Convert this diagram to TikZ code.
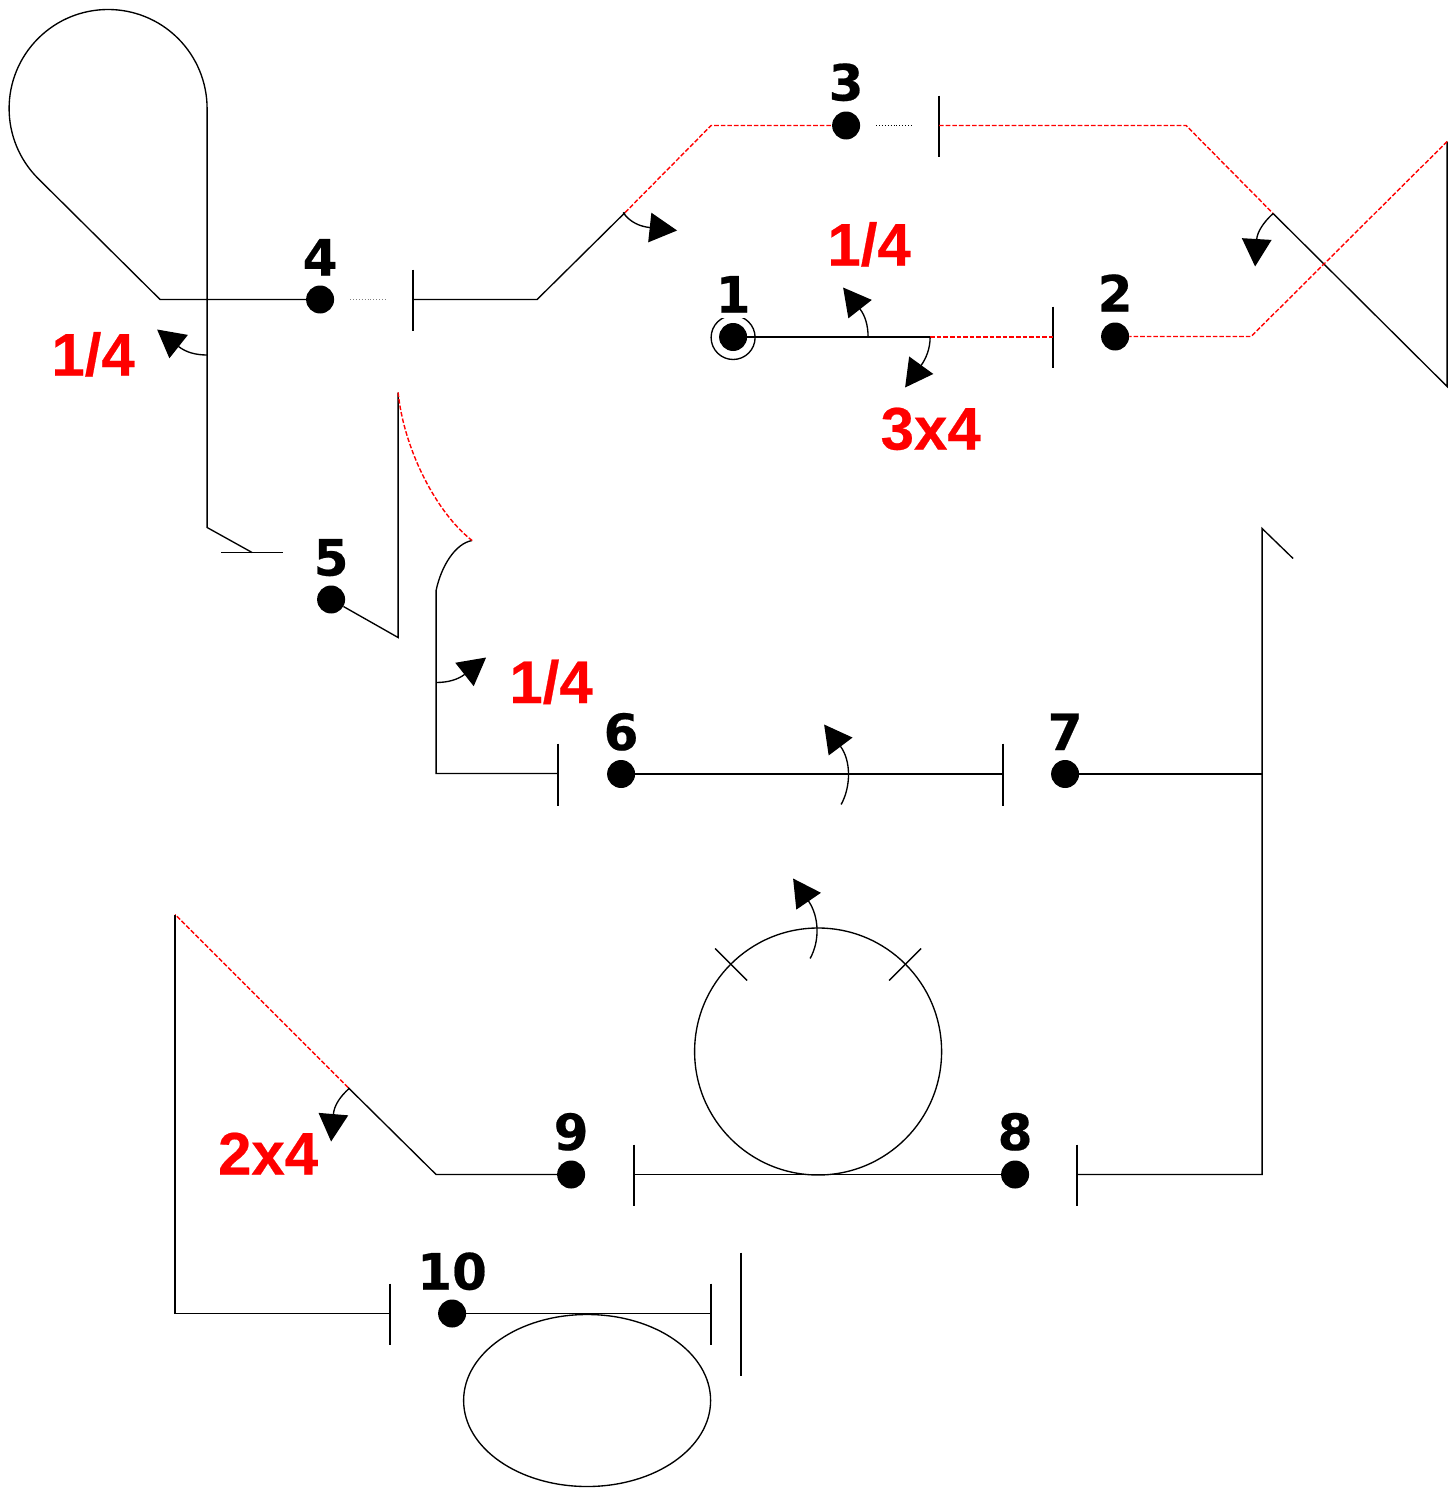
\documentclass[tikz,border=0pt]{standalone}
\usepackage{fontspec}
\usetikzlibrary{arrows.meta,shapes.geometric}
\newfontfamily\numfont[FakeBold=0.4]{DejaVu Sans}
\newfontfamily\redfont[FakeBold=0.4]{Liberation Sans}
\tikzset{
  wire/.style={line width=1.35pt,black,line join=miter},
  redwire/.style={line width=1.4pt,red,dash pattern=on 4.6pt off 2pt},
  dotwire/.style={line width=1.2pt,dash pattern=on 1pt off 1.9pt},
  dotnode/.style={circle,fill=black,inner sep=0pt,minimum size=28pt},
  ringnode/.style={circle,draw=black,line width=1.35pt,inner sep=0pt,minimum size=44pt},
  numlabel/.style={anchor=base,inner sep=0pt,font=\numfont\bfseries\fontsize{50}{50}\selectfont},
  redlabel/.style={anchor=base,inner sep=0pt,text=red,font=\redfont\bfseries\fontsize{60}{60}\selectfont},
  turn/.style={line width=1.35pt,-{Triangle[length=27.5pt,width=29.5pt]}},
}
\begin{document}
\begin{tikzpicture}[x=1pt,y=-1pt]
\useasboundingbox (-0.1,-0.5) rectangle (1451.9,1487.5);
% points
\coordinate (loopr) at (207,108);
\coordinate (loopl) at (38,178);
\coordinate (a1) at (160,299);
\coordinate (a2) at (207,527);
\coordinate (a3) at (252,552);
\coordinate (t5a) at (221,552);
\coordinate (t5b) at (283,552);
\coordinate (b1) at (398,637);
\coordinate (b2) at (398,392);
\coordinate (b3) at (472,540);
\coordinate (b4) at (436,590);
\coordinate (b5) at (436,773);
\coordinate (t6) at (558,773);
\coordinate (t6a) at (558,743);
\coordinate (t6b) at (558,805);
\coordinate (t7) at (1003,773.5);
\coordinate (t7a) at (1003,743);
\coordinate (t7b) at (1003,805);
\coordinate (c1) at (1262,773.5);
\coordinate (c2) at (1262,528);
\coordinate (c3) at (1293,558);
\coordinate (c4) at (1262,1174);
\coordinate (t8) at (1077,1174);
\coordinate (t8a) at (1077,1144);
\coordinate (t8b) at (1077,1205);
\coordinate (t9) at (634,1174);
\coordinate (t9a) at (634,1144);
\coordinate (t9b) at (634,1205);
\coordinate (e1) at (436,1174);
\coordinate (e2) at (348,1087);
\coordinate (e3) at (175,914);
\coordinate (e4) at (175,1313);
\coordinate (t10) at (390,1313);
\coordinate (t10a) at (390,1283);
\coordinate (t10b) at (390,1344);
\coordinate (t11) at (711,1313);
\coordinate (t11a) at (711,1283);
\coordinate (t11b) at (711,1344);
\coordinate (t12a) at (741,1252);
\coordinate (t12b) at (741,1375);
\coordinate (t4) at (413,299);
\coordinate (t4a) at (413,269);
\coordinate (t4b) at (413,330);
\coordinate (d4a) at (350,299);
\coordinate (d4b) at (385,299);
\coordinate (f1) at (537,299);
\coordinate (f2) at (625,212);
\coordinate (f3) at (711,125);
\coordinate (d3a) at (876,125);
\coordinate (d3b) at (911,125);
\coordinate (t3) at (939,125);
\coordinate (t3a) at (939,95);
\coordinate (t3b) at (939,156);
\coordinate (g1) at (1186,125);
\coordinate (g2) at (1273,213);
\coordinate (g3) at (1447,386);
\coordinate (g4) at (1447,141);
\coordinate (g5) at (1251,336);
\coordinate (t2) at (1053,336.5);
\coordinate (t2a) at (1053,306);
\coordinate (t2b) at (1053,367);
\coordinate (h1) at (930,336.5);
\coordinate (xa) at (715,948);
\coordinate (xb) at (747,980);
\coordinate (ya) at (921,948);
\coordinate (yb) at (889,980);
% round shapes
\node[circle,draw=black,line width=1.35pt,inner sep=0pt,minimum size=247pt] (round) at (818,1051) {};
\node[ellipse,draw=black,line width=1.35pt,inner sep=0pt,minimum width=247pt,minimum height=172pt] (oval) at (587,1400) {};
% terminals
\node[ringnode] (ring) at (733,337) {};
\node[dotnode] (d1) at (733,336.5) {};
\node[dotnode] (d2) at (1115,336) {};
\node[dotnode] (d3) at (846,125) {};
\node[dotnode] (d4) at (320,299) {};
\node[dotnode] (d5) at (331,599) {};
\node[dotnode] (d6) at (621,773.5) {};
\node[dotnode] (d7) at (1065,773.5) {};
\node[dotnode] (d8) at (1015,1174) {};
\node[dotnode] (d9) at (571,1174) {};
\node[dotnode] (d10) at (452,1313) {};
% black wires
\draw[wire] (d4) -- (a1) -- (loopl) arc[start angle=225,end angle=0,radius=99pt] -- (a2) -- (a3);
\draw[wire] (t5a) -- (t5b);
\draw[wire] (d5) -- (b1) -- (b2);
\draw[wire] (b3) .. controls (455,543) and (441,566) .. (b4) -- (b5) -- (t6);
\draw[wire] (t6a) -- (t6b);
\draw[wire] (d6) -- (t7);
\draw[wire] (t7a) -- (t7b);
\draw[wire] (d7) -- (c1);
\draw[wire] (c3) -- (c2) -- (c4) -- (t8);
\draw[wire] (t8a) -- (t8b);
\draw[wire] (d8) -- (t9);
\draw[wire] (t9a) -- (t9b);
\draw[wire] (d9) -- (e1) -- (e2);
\draw[wire] (e3) -- (e4) -- (t10);
\draw[wire] (t10a) -- (t10b);
\draw[wire] (d10) -- (t11);
\draw[wire] (t11a) -- (t11b);
\draw[wire] (t12a) -- (t12b);
\draw[wire] (xa) -- (xb);
\draw[wire] (ya) -- (yb);
\draw[wire] (t4) -- (f1) -- (f2);
\draw[wire] (t4a) -- (t4b);
\draw[wire] (t3a) -- (t3b);
\draw[wire] (g2) -- (g3) -- (g4);
\draw[wire] (t2a) -- (t2b);
\draw[wire] (d1) -- (h1);
% dotted gaps
\draw[dotwire,gray] (d4a) -- (d4b);
\draw[dotwire,black] (d3a) -- (d3b);
% red wires
\draw[redwire] (f2) -- (f3) -- (d3);
\draw[redwire] (t3) -- (g1) -- (g2);
\draw[redwire] (g4) -- (g5) -- (d2);
\draw[redwire] (h1) -- (t2);
\draw[redwire] (b2) .. controls (404,450) and (437,513) .. (b3);
\draw[redwire] (e2) -- (e3);
% rotation arrows
\draw[turn] (207,354.5) .. controls (196,354.5) and (186,352) .. (157,329);
\draw[turn] (623,212) .. controls (630,222) and (640,226) .. (677,230);
\draw[turn] (868,336.5) .. controls (868,325) and (865,315) .. (843,287);
\draw[turn] (930,337) .. controls (930,348) and (926,358) .. (905,387);
\draw[turn] (1273,213) .. controls (1263,222) and (1257,232) .. (1255,266);
\draw[turn] (436,682) .. controls (448,682) and (458,679) .. (486,657);
\draw[turn] (841,804) .. controls (851,786) and (851,760) .. (824,724);
\draw[turn] (810,958) .. controls (820,940) and (819,916) .. (793,878);
\draw[turn] (349,1088) .. controls (340,1096) and (334,1105) .. (331,1141);
% labels
\node[numlabel,fill=white,text depth=5pt] (l1) at (733,312) {1};
\node[numlabel] (l2) at (1115,311) {2};
\node[numlabel] (l3) at (846,100) {3};
\node[numlabel] (l4) at (320,275) {4};
\node[numlabel] (l5) at (331,575) {5};
\node[numlabel] (l6) at (621,749.5) {6};
\node[numlabel] (l7) at (1065,749.5) {7};
\node[numlabel] (l8) at (1015,1149.5) {8};
\node[numlabel] (l9) at (571,1149.5) {9};
\node[numlabel] (l10) at (452,1289) {10};
\node[redlabel] (r1) at (869,265) {1/4};
\node[redlabel] (r2) at (930.6,449) {3x4};
\node[redlabel] (r3) at (93,375) {1/4};
\node[redlabel] (r4) at (551,702.5) {1/4};
\node[redlabel] (r5) at (268,1174) {2x4};
\end{tikzpicture}
\end{document}
